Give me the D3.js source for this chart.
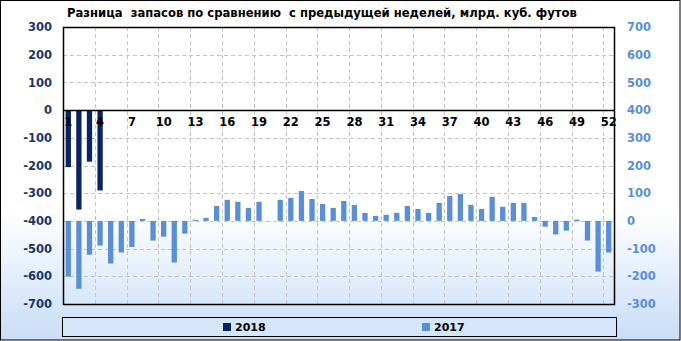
<!DOCTYPE html>
<html>
<head>
<meta charset="utf-8">
<script src="https://cdn.jsdelivr.net/npm/d3@7"></script>
<style>
  body { margin: 0; background: #fff; }
  text { font-family: "DejaVu Sans", Verdana, sans-serif; font-weight: bold; }
</style>
</head>
<body>
<svg id="chart"></svg>
<script>
// weekly storage change, bcf
const weeks = d3.range(1, 53);
const tickWeeks = [1, 4, 7, 10, 13, 16, 19, 22, 25, 28, 31, 34, 37, 40, 43, 46, 49, 52];
const leftTicks = [300, 200, 100, 0, -100, -200, -300, -400, -500, -600, -700];
const rightTicks = [700, 600, 500, 400, 300, 200, 100, 0, -100, -200, -300];
const values2018 = [-206, -359, -186, -290];
const values2017 = [-201, -245, -122, -89, -154, -114, -94, 7, -71, -57, -150, -46,
  4, 11, 54, 76, 69, 47, 69, 0,
  76, 83, 108, 79, 61, 47, 72, 58, 29, 18,
  22, 29, 54, 43, 29, 65, 90, 97, 58, 43,
  87, 51, 65, 65, 14, -21, -49, -35, 5, -71, -183, -114];
const seriesNames = ['2018', '2017'];
const title = 'Разница  запасов по сравнению  с предыдущей неделей, млрд. куб. футов';

const width = 681, height = 341;
const plot = {left: 63, right: 614, top: 27, bottom: 304};
const colors = {'2018': '#0B2360', '2017': '#5A8FD6'};

const svg = d3.select('#chart').attr('width', width).attr('height', height);

// background gradient
const defs = svg.append('defs');
const grad = defs.append('linearGradient').attr('id', 'bg')
  .attr('x1', 0).attr('y1', 0).attr('x2', 0).attr('y2', 1);
grad.append('stop').attr('offset', '0%').attr('stop-color', '#ffffff');
grad.append('stop').attr('offset', '62%').attr('stop-color', '#ffffff');
grad.append('stop').attr('offset', '100%').attr('stop-color', '#C8DDF7');

svg.append('rect')
  .attr('x', 0.5).attr('y', 0.5)
  .attr('width', width - 1.5).attr('height', height - 1.5)
  .attr('fill', 'url(#bg)')
  .attr('stroke', '#000');

const x = d3.scaleBand()
  .domain(weeks)
  .range([plot.left, plot.right])
  .paddingInner(0.5)
  .paddingOuter(0.25);

const yL = d3.scaleLinear().domain([-700, 300]).range([plot.bottom, plot.top]);
const yR = d3.scaleLinear().domain([-300, 700]).range([plot.bottom, plot.top]);

// grid
const grid = svg.append('g')
  .attr('stroke', '#C4C4C4')
  .attr('stroke-dasharray', '4,3');

grid.selectAll('line.h')
  .data(leftTicks.filter((d) => d !== 300 && d !== -700 && d !== 0))
  .enter()
  .append('line')
  .attr('x1', plot.left).attr('x2', plot.right)
  .attr('y1', (d) => Math.round(yL(d)) + 0.5)
  .attr('y2', (d) => Math.round(yL(d)) + 0.5);

grid.selectAll('line.v')
  .data(tickWeeks.slice(1))
  .enter()
  .append('line')
  .attr('x1', (d) => Math.round(x(d) - x.step() * 0.25) + 0.5)
  .attr('x2', (d) => Math.round(x(d) - x.step() * 0.25) + 0.5)
  .attr('y1', plot.top).attr('y2', plot.bottom);

// bars
svg.append('g')
  .selectAll('rect')
  .data(values2017)
  .enter()
  .append('rect')
  .attr('x', (d, i) => x(weeks[i]))
  .attr('width', x.bandwidth())
  .attr('y', (d) => Math.min(yR(0), yR(d)))
  .attr('height', (d) => Math.abs(yR(d) - yR(0)))
  .attr('fill', colors['2017']);

svg.append('g')
  .selectAll('rect')
  .data(values2018)
  .enter()
  .append('rect')
  .attr('x', (d, i) => x(weeks[i]))
  .attr('width', x.bandwidth())
  .attr('y', (d) => Math.min(yL(0), yL(d)))
  .attr('height', (d) => Math.abs(yL(d) - yL(0)))
  .attr('fill', colors['2018']);

// zero line + frame
svg.append('line')
  .attr('x1', plot.left).attr('x2', plot.right)
  .attr('y1', Math.round(yL(0)) + 0.5).attr('y2', Math.round(yL(0)) + 0.5)
  .attr('stroke', '#000').attr('stroke-width', 1.5);

svg.append('rect')
  .attr('x', plot.left + 0.5).attr('y', plot.top + 0.5)
  .attr('width', plot.right - plot.left).attr('height', plot.bottom - plot.top)
  .attr('fill', 'none')
  .attr('stroke', '#000').attr('stroke-width', 1.5);

// axes
const plain = (d) => String(d);

const xAxis = svg.append('g')
  .attr('transform', `translate(0,${yL(0) + 3})`)
  .call(d3.axisBottom(x).tickValues(tickWeeks).tickSize(0).tickPadding(5));
xAxis.select('.domain').remove();
xAxis.selectAll('text').attr('font-size', 11.5).attr('fill', '#000')
  .style('font-family', '"DejaVu Sans", sans-serif');

const leftAxis = svg.append('g')
  .attr('transform', `translate(${plot.left},0)`)
  .call(d3.axisLeft(yL).tickValues(leftTicks).tickFormat(plain).tickSize(0).tickPadding(11));
leftAxis.select('.domain').remove();
leftAxis.selectAll('text').attr('font-size', 11.5).attr('fill', '#1B3566')
  .style('font-family', '"DejaVu Sans", sans-serif');

const rightAxis = svg.append('g')
  .attr('transform', `translate(${plot.right},0)`)
  .call(d3.axisRight(yR).tickValues(rightTicks).tickFormat(plain).tickSize(0).tickPadding(13));
rightAxis.select('.domain').remove();
rightAxis.selectAll('text').attr('font-size', 11.5).attr('fill', '#5A8FD6')
  .style('font-family', '"DejaVu Sans", sans-serif');

// title
svg.append('text')
  .attr('x', 67).attr('y', 17)
  .attr('font-size', 11.6)
  .attr('fill', '#000')
  .style('white-space', 'pre')
  .text(title);

// legend
const legend = svg.append('g');
legend.append('rect')
  .attr('x', 62.5).attr('y', 317.5)
  .attr('width', 554).attr('height', 19)
  .attr('fill', '#D5E6FA')
  .attr('stroke', '#000');

const legendX = {'2018': 223, '2017': 422};
legend.selectAll('rect.key')
  .data(seriesNames)
  .enter()
  .append('rect')
  .attr('class', 'key')
  .attr('x', (d) => legendX[d]).attr('y', 323)
  .attr('width', 8).attr('height', 8)
  .attr('fill', (d) => colors[d]);

legend.selectAll('text')
  .data(seriesNames)
  .enter()
  .append('text')
  .attr('x', (d) => legendX[d] + 12).attr('y', 331)
  .attr('font-size', 11)
  .attr('fill', '#000')
  .text((d) => d);
</script>
</body>
</html>
